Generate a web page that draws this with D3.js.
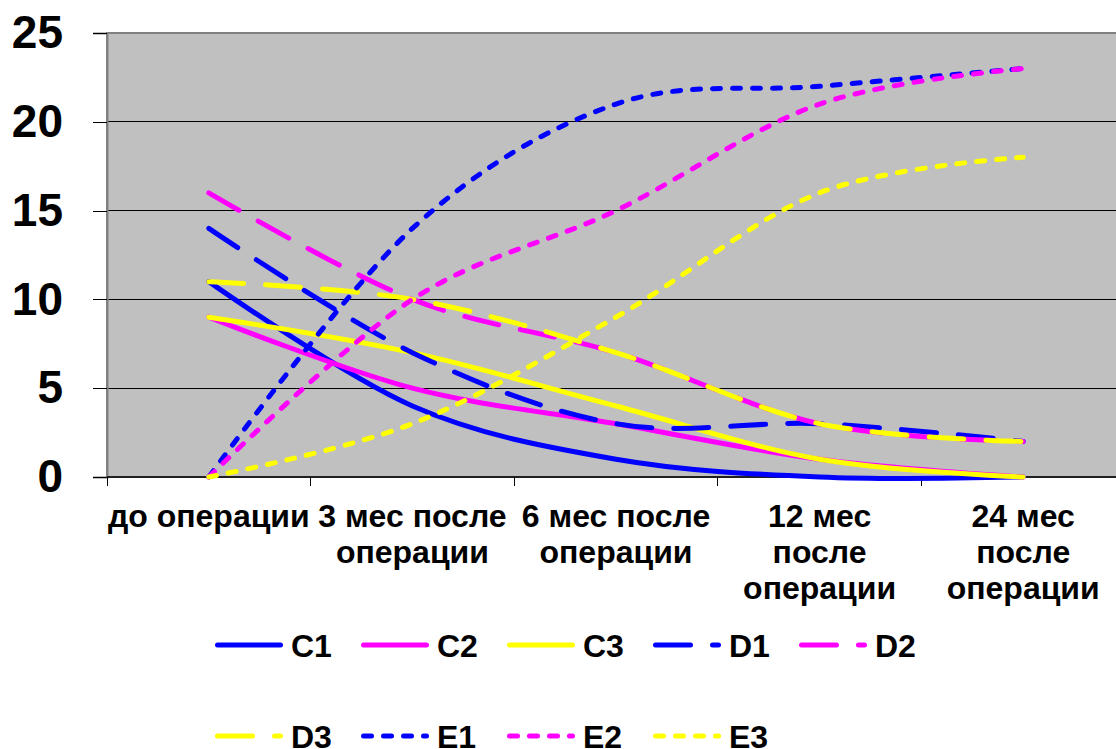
<!DOCTYPE html>
<html>
<head>
<meta charset="utf-8">
<script src="https://cdn.jsdelivr.net/npm/d3@7"></script>
<style>
  body { margin: 0; background: #ffffff; }
  svg { display: block; font-family: "Liberation Sans", Arial, sans-serif; font-weight: bold; }
</style>
</head>
<body>
<svg id="chart" width="1116" height="749"></svg>
<script>
// Category labels (each entry is a list of wrapped lines)
const categories = [
  ["до операции"],
  ["3 мес после", "операции"],
  ["6 мес после", "операции"],
  ["12 мес", "после", "операции"],
  ["24 мес", "после", "операции"]
];
const yTicks = [0, 5, 10, 15, 20, 25];

// Series values per category
const seriesNames = ["C1", "C2", "C3", "D1", "D2", "D3", "E1", "E2", "E3"];
const C1 = [11, 4, 1, 0, 0];
const C2 = [9, 5, 3, 1, 0];
const C3 = [9, 7, 4, 1, 0];
const D1 = [14, 7, 3, 3, 2];
const D2 = [16, 10, 7, 3, 2];
const D3 = [11, 10, 7, 3, 2];
const E1 = [0, 14, 21, 22, 23];
const E2 = [0, 10, 15, 21, 23];
const E3 = [0, 3, 9, 16, 18];
const seriesValues = [C1, C2, C3, D1, D2, D3, E1, E2, E3];

// Appearance of each series
const seriesColors = ["#0000ff", "#ff00ff", "#ffff00", "#0000ff", "#ff00ff", "#ffff00", "#0000ff", "#ff00ff", "#ffff00"];
const seriesDash = ["solid", "solid", "solid", "long", "long", "long", "short", "short", "short"];
const dashPatterns = { solid: null, long: "35,22", short: "8,12" };

const svg = d3.select("#chart");
const plot = { left: 107, top: 33, right: 1125, bottom: 477 };

const x = d3.scaleBand()
  .domain(categories.map((d, i) => i))
  .range([plot.left, plot.right])
  .paddingInner(0).paddingOuter(0);

const y = d3.scaleLinear()
  .domain([0, 25])
  .range([plot.bottom, plot.top]);

// Plot background
svg.append("rect")
  .attr("x", plot.left).attr("y", plot.top)
  .attr("width", plot.right - plot.left).attr("height", plot.bottom - plot.top)
  .attr("fill", "#c0c0c0")
  .attr("stroke", "#808080").attr("stroke-width", 2);

// Horizontal gridlines
svg.append("g").selectAll("line")
  .data(yTicks.filter(t => t > 0 && t < 25))
  .join("line")
  .attr("x1", plot.left).attr("x2", plot.right)
  .attr("y1", d => y(d)).attr("y2", d => y(d))
  .attr("stroke", "#000").attr("stroke-width", 1)
  .attr("shape-rendering", "crispEdges");

// Y axis
const yAxis = svg.append("g")
  .attr("transform", `translate(${plot.left},0)`)
  .call(d3.axisLeft(y).tickValues(yTicks).tickSize(14).tickPadding(30).tickFormat(d3.format("d")));
yAxis.select(".domain").attr("stroke", "#808080").attr("stroke-width", 2);
yAxis.selectAll(".tick line").attr("stroke", "#000").attr("shape-rendering", "crispEdges");
yAxis.selectAll(".tick text")
  .attr("font-size", 46)
  .attr("font-family", "'Liberation Sans', Arial, sans-serif")
  .attr("font-weight", "bold")
  .attr("fill", "#000");

// X axis line, boundary ticks and wrapped labels
const xAxis = svg.append("g");
xAxis.append("line")
  .attr("x1", plot.left).attr("x2", plot.right)
  .attr("y1", plot.bottom).attr("y2", plot.bottom)
  .attr("stroke", "#000").attr("stroke-width", 1.5);
const boundaries = categories.map((d, i) => x(i)).concat([x(categories.length - 1) + x.bandwidth()]);
xAxis.selectAll("line.tick")
  .data(boundaries)
  .join("line")
  .attr("class", "tick")
  .attr("x1", d => d).attr("x2", d => d)
  .attr("y1", plot.bottom).attr("y2", plot.bottom + 9)
  .attr("stroke", "#000").attr("shape-rendering", "crispEdges");
const labels = xAxis.selectAll("text.cat")
  .data(categories)
  .join("text")
  .attr("class", "cat")
  .attr("text-anchor", "middle")
  .attr("font-size", 32)
  .attr("fill", "#000");
labels.selectAll("tspan")
  .data((d, i) => d.map(line => ({ line, i })))
  .join("tspan")
  .attr("x", d => x(d.i) + x.bandwidth() / 2)
  .attr("y", (d, j) => 527 + j * 36)
  .text(d => d.line);

// Series lines
const line = d3.line()
  .x((d, i) => x(i) + x.bandwidth() / 2)
  .y(d => y(d))
  .curve(d3.curveCatmullRom.alpha(0));

svg.append("g").selectAll("path")
  .data(seriesValues)
  .join("path")
  .attr("d", d => line(d))
  .attr("fill", "none")
  .attr("stroke", (d, i) => seriesColors[i])
  .attr("stroke-width", 5)
  .attr("stroke-linecap", "round")
  .attr("stroke-linejoin", "round")
  .attr("stroke-dasharray", (d, i) => dashPatterns[seriesDash[i]]);

// Legend: two rows of five / four entries
const legend = svg.append("g");
const items = legend.selectAll("g")
  .data(seriesNames)
  .join("g")
  .attr("transform", (d, i) => `translate(${215 + (i % 5) * 146},${i < 5 ? 645 : 736})`);
items.append("line")
  .attr("x1", 2.5).attr("x2", 65.5)
  .attr("y1", 0).attr("y2", 0)
  .attr("stroke", (d, i) => seriesColors[i])
  .attr("stroke-width", 5)
  .attr("stroke-linecap", "round")
  .attr("stroke-dasharray", (d, i) => dashPatterns[seriesDash[i]]);
items.append("text")
  .attr("x", 76)
  .attr("y", 0)
  .attr("dy", "0.36em")
  .attr("font-size", 32)
  .attr("fill", "#000")
  .text(d => d);
</script>
</body>
</html>
